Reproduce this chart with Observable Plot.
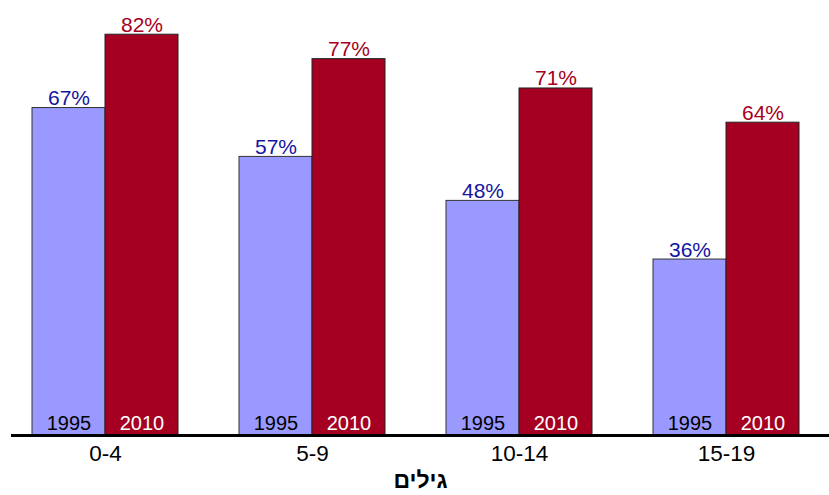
<!DOCTYPE html>
<html>
<head>
<meta charset="utf-8">
<script src="https://cdn.jsdelivr.net/npm/d3@7"></script>
<script src="https://cdn.jsdelivr.net/npm/@observablehq/plot@0.6"></script>
<style>
  html, body { margin: 0; padding: 0; background: #ffffff; }
</style>
</head>
<body>
<div id="chart"></div>
<script>
const ages = ["0-4", "5-9", "10-14", "15-19"];
const years = ["1995", "2010"];
const values1995 = [67, 57, 48, 36];
const values2010 = [82, 77, 71, 64];
const axisTitle = "גילים";

const blueFill = "#9999ff";
const redFill = "#a50021";
const blueText = "#1414a0";

const d1995 = ages.map((a, i) => ({age: a, year: years[0], value: values1995[i]}));
const d2010 = ages.map((a, i) => ({age: a, year: years[1], value: values2010[i]}));

const half = 73;
const font = "'Liberation Sans', Arial, Helvetica, sans-serif";

const chart = Plot.plot({
  width: 829,
  height: 495,
  marginTop: 0,
  marginLeft: 11,
  marginRight: 0,
  marginBottom: 60,
  style: {fontFamily: font, fontSize: "20px", background: "#ffffff", color: "#000"},
  x: {domain: ages, range: [-1, 832], paddingInner: 0.297, paddingOuter: 0.154, axis: null, label: null},
  y: {domain: [0, 89], axis: null},
  marks: [
    Plot.barY(d1995, {x: "age", y: "value", fill: blueFill, stroke: "#333", strokeWidth: 1, insetRight: half}),
    Plot.barY(d2010, {x: "age", y: "value", fill: redFill, stroke: "#222", strokeWidth: 1, insetLeft: half}),
    Plot.text(d1995, {x: "age", y: "value", text: d => d.value + "%", dx: -half / 2, dy: -3, lineAnchor: "bottom", fill: blueText, fontSize: 21}),
    Plot.text(d2010, {x: "age", y: "value", text: d => d.value + "%", dx: half / 2, dy: -3, lineAnchor: "bottom", fill: redFill, fontSize: 21}),
    Plot.text(d1995, {x: "age", y: 0, text: "year", dx: -half / 2, dy: -6, lineAnchor: "bottom", fill: "#000", fontSize: 20}),
    Plot.text(d2010, {x: "age", y: 0, text: "year", dx: half / 2, dy: -6, lineAnchor: "bottom", fill: "#fff", fontSize: 20}),
    Plot.ruleY([0], {stroke: "#000", strokeWidth: 3}),
    Plot.text(ages, {x: d => d, frameAnchor: "bottom", text: d => d, dy: 10, lineAnchor: "top", fontSize: 22.5, fill: "#000"}),
    Plot.text([axisTitle], {text: d => d, frameAnchor: "bottom", dy: 36, lineAnchor: "top", fontWeight: "bold", fontSize: 23, fill: "#000"})
  ]
});
document.getElementById("chart").appendChild(chart);
</script>
</body>
</html>
